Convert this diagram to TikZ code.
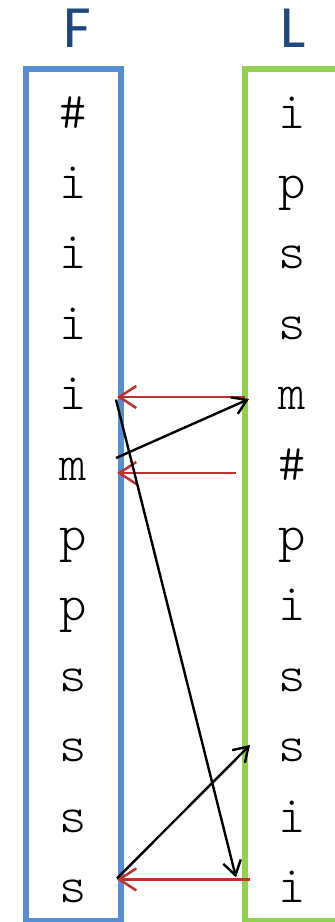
\documentclass[tikz,border=0pt]{standalone}
\usepackage{fontspec}
\newfontfamily\headfont{Carlito}
\setmonofont{Latin Modern Mono Light}
\usetikzlibrary{arrows.meta}
\definecolor{fblue}{HTML}{558ED5}
\definecolor{lgreen}{HTML}{92D050}
\definecolor{hdblue}{HTML}{1F497D}
\definecolor{lfred}{HTML}{C0302E}

\begin{document}
\begin{tikzpicture}[x=1pt, y=-1pt,
  colbox/.style={line width=6.5pt, minimum width=95pt, minimum height=852pt, anchor=north west, inner sep=0pt, outer sep=0pt},
  sym/.style={font=\ttfamily\fontsize{52}{52}\selectfont, anchor=base, inner sep=0pt},
  head/.style={font=\headfont\fontsize{60}{60}\selectfont, text=hdblue, anchor=base, inner sep=0pt},
  redarr/.style={draw=lfred, line width=2.5pt, -{Straight Barb[length=17pt, width=22pt, line width=2.5pt]}},
  blkarr/.style={draw=black, line width=2.4pt, -{Straight Barb[length=14pt, width=18pt, line width=2.4pt]}}]
  \useasboundingbox (0,0) rectangle (335,922);
  % the two columns
  \node[colbox, draw=fblue] (fbox) at (26,69) {};
  \node[colbox, draw=lgreen] (lbox) at (245,69) {};
  \node[head] (fhead) at (77,47) {F};
  \node[head] (lhead) at (293,47) {L};
  % first column, sorted
  \foreach \c [count=\k from 0] in {\#,i,i,i,i,m,p,p,s,s,s,s}
    \node[sym] (f\k) at (73.5,128+70.4*\k) {\c};
  % last column
  \foreach \c [count=\k from 0] in {i,p,s,s,m,\#,p,i,s,s,i,i}
    \node[sym] (l\k) at (292,128+70.4*\k) {\c};
  % L -> F
  \draw[redarr] ([yshift=12.6pt]l4.base -| lbox.west) -- ([yshift=12.6pt,xshift=-4pt]f4.base -| fbox.east);
  \draw[redarr] ([yshift=7pt,xshift=-9pt]f5.base -| lbox.west) -- ([yshift=7pt,xshift=-4pt]f5.base -| fbox.east);
  \draw[redarr] ([yshift=23pt,xshift=5pt]l11.base -| lbox.west) -- ([yshift=23pt,xshift=-4pt]l11.base -| fbox.east);
  % F -> L
  \draw[blkarr] ([yshift=22pt,xshift=-5pt]f5.base -| fbox.east) -- ([yshift=10.6pt,xshift=4pt]l4.base -| lbox.west);
  \draw[blkarr] ([yshift=10pt,xshift=-5pt]f4.base -| fbox.east) -- ([yshift=25pt,xshift=-9pt]l11.base -| lbox.west);
  \draw[blkarr] ([yshift=24pt,xshift=-4pt]f11.base -| fbox.east) -- ([yshift=16.6pt,xshift=5pt]l9.base -| lbox.west);
\end{tikzpicture}
\end{document}
